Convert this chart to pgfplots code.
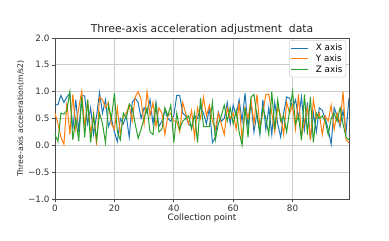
\documentclass[border=0pt]{standalone}
\usepackage{pgfplots}
\pgfplotsset{compat=1.18}
\usepackage{fontspec}
\setmainfont{DejaVu Sans}
\definecolor{c0}{HTML}{1F77B4}
\definecolor{c1}{HTML}{FF7F0E}
\definecolor{c2}{HTML}{2CA02C}
\begin{document}
\begin{tikzpicture}[x=1pt,y=1pt]
\useasboundingbox (-55,-42) rectangle (334,199);
\begin{axis}[
  at={(0,0)}, anchor=south west,
  scale only axis, width=294pt, height=161pt,
  xmin=0, xmax=99, ymin=-1, ymax=2,
  xtick={0,20,40,60,80},
  ytick={-1,-0.5,0,0.5,1,1.5,2},
  yticklabels={−1.0,−0.5,0.0,0.5,1.0,1.5,2.0},
  /pgf/number format/assume math mode=true,
  tick label style={font=\fontsize{8.8}{10}\selectfont, text=black!80},
  xticklabel style={yshift=1pt},
  yticklabel style={xshift=1pt},
  tick align=outside, tick pos=left,
  major tick length=3pt,
  every tick/.style={black!70, line width=0.6pt},
  axis line style={black!70, line width=0.7pt},
  grid=major, major grid style={gray!40, line width=0.7pt},
  title={Three-axis acceleration adjustment\ \ data},
  title style={font=\fontsize{10.8}{12}\selectfont, text=black!85, yshift=-6.5pt},
  xlabel={Collection point},
  ylabel={Three-axis acceleration(m/s2)},
  xlabel style={font=\fontsize{8.8}{10}\selectfont, text=black!85, yshift=4pt},
  ylabel style={font=\fontsize{7.8}{9}\selectfont, text=black!85, yshift=-3pt},
  legend cell align=left,
  legend style={font=\fontsize{8.8}{10}\selectfont, draw=black!20, rounded corners=1.5pt, fill=white, fill opacity=0.85, text opacity=1, inner sep=1.5pt, row sep=-1.5pt, column sep=5pt, at={(0.99,0.985)}, anchor=north east},
  legend image code/.code={\draw[#1, line width=1pt] (0,0) -- (0.6cm,0);},
  every axis plot/.append style={line width=1pt},
]
\addplot[c0] coordinates {
(0,0.75)(1,0.76)(2,0.93)(3,0.80)(4,0.90)(5,0.97)(6,0.30)(7,0.85)(8,0.25)(9,0.93)
(10,0.92)(11,0.40)(12,0.70)(13,0.20)(14,0.55)(15,0.98)(16,0.60)(17,0.85)(18,0.35)(19,0.50)
(20,0.25)(21,0.07)(22,0.50)(23,0.40)(24,0.55)(25,0.15)(26,0.80)(27,0.88)(28,0.80)(29,0.50)
(30,0.70)(31,0.60)(32,0.85)(33,0.40)(34,0.80)(35,0.35)(36,0.45)(37,0.65)(38,0.50)(39,0.45)
(40,0.55)(41,0.93)(42,0.93)(43,0.60)(44,0.55)(45,0.40)(46,0.35)(47,0.55)(48,0.50)(49,0.72)
(50,0.60)(51,0.40)(52,0.70)(53,0.05)(54,0.15)(55,0.62)(56,0.45)(57,0.50)(58,0.80)(59,0.40)
(60,0.75)(61,0.55)(62,0.85)(63,0.45)(64,0.97)(65,0.35)(66,0.80)(67,0.25)(68,0.60)(69,0.20)
(70,0.85)(71,0.30)(72,0.70)(73,0.20)(74,0.80)(75,0.40)(76,0.15)(77,0.60)(78,0.90)(79,0.88)
(80,0.70)(81,0.85)(82,0.50)(83,0.90)(84,0.30)(85,0.80)(86,0.10)(87,0.60)(88,0.25)(89,0.70)
(90,0.65)(91,0.50)(92,0.30)(93,0.02)(94,0.70)(95,0.55)(96,0.35)(97,0.65)(98,0.25)(99,0.88)
};
\addlegendentry{X axis}
\addplot[c1] coordinates {
(0,0.60)(1,0.40)(2,0.15)(3,0.02)(4,0.80)(5,0.20)(6,0.95)(7,0.30)(8,0.70)(9,1.00)
(10,0.35)(11,0.85)(12,0.20)(13,0.60)(14,0.00)(15,0.90)(16,0.85)(17,0.70)(18,0.80)(19,0.40)
(20,0.30)(21,0.70)(22,0.20)(23,0.55)(24,0.60)(25,0.75)(26,0.45)(27,0.90)(28,1.00)(29,0.85)
(30,0.40)(31,1.00)(32,0.55)(33,0.80)(34,0.35)(35,0.70)(36,0.60)(37,0.20)(38,0.55)(39,0.60)
(40,0.45)(41,0.45)(42,0.25)(43,0.80)(44,0.60)(45,0.40)(46,0.65)(47,0.15)(48,0.70)(49,0.50)
(50,0.90)(51,0.55)(52,0.75)(53,0.45)(54,0.30)(55,0.60)(56,0.40)(57,0.20)(58,0.70)(59,0.50)
(60,0.60)(61,0.30)(62,0.80)(63,0.10)(64,0.70)(65,0.50)(66,0.85)(67,0.40)(68,0.95)(69,0.35)
(70,0.60)(71,0.95)(72,0.95)(73,0.60)(74,0.25)(75,0.70)(76,0.55)(77,0.20)(78,0.80)(79,0.60)
(80,0.75)(81,0.30)(82,0.95)(83,0.15)(84,0.45)(85,0.70)(86,0.10)(87,0.85)(88,0.50)(89,0.60)
(90,0.20)(91,0.55)(92,0.45)(93,0.75)(94,0.30)(95,0.60)(96,0.40)(97,1.00)(98,0.10)(99,0.05)
};
\addlegendentry{Y axis}
\addplot[c2] coordinates {
(0,0.20)(1,0.07)(2,0.60)(3,0.58)(4,0.65)(5,1.00)(6,0.10)(7,0.50)(8,0.08)(9,0.90)
(10,0.15)(11,0.85)(12,0.05)(13,0.55)(14,0.10)(15,0.60)(16,0.40)(17,0.05)(18,0.75)(19,0.50)
(20,0.97)(21,0.25)(22,0.10)(23,0.60)(24,0.50)(25,0.77)(26,0.70)(27,0.40)(28,0.13)(29,0.30)
(30,0.50)(31,0.70)(32,0.25)(33,0.20)(34,0.75)(35,0.25)(36,0.30)(37,0.70)(38,0.55)(39,0.75)
(40,0.05)(41,0.60)(42,0.30)(43,0.45)(44,0.50)(45,0.55)(46,0.30)(47,0.60)(48,0.05)(49,0.88)
(50,0.35)(51,0.35)(52,0.35)(53,0.80)(54,0.10)(55,0.40)(56,0.55)(57,0.75)(58,0.45)(59,0.70)
(60,0.40)(61,0.65)(62,0.25)(63,0.00)(64,0.70)(65,0.15)(66,0.90)(67,0.95)(68,0.55)(69,0.25)
(70,0.70)(71,0.50)(72,0.20)(73,1.00)(74,0.30)(75,0.85)(76,0.45)(77,0.55)(78,0.25)(79,0.65)
(80,1.00)(81,0.40)(82,0.55)(83,0.10)(84,0.95)(85,0.20)(86,0.90)(87,0.05)(88,0.60)(89,0.50)
(90,0.55)(91,0.45)(92,0.20)(93,0.50)(94,0.60)(95,0.45)(96,0.70)(97,0.40)(98,0.15)(99,0.10)
};
\addlegendentry{Z axis}
\end{axis}
\end{tikzpicture}
\end{document}
